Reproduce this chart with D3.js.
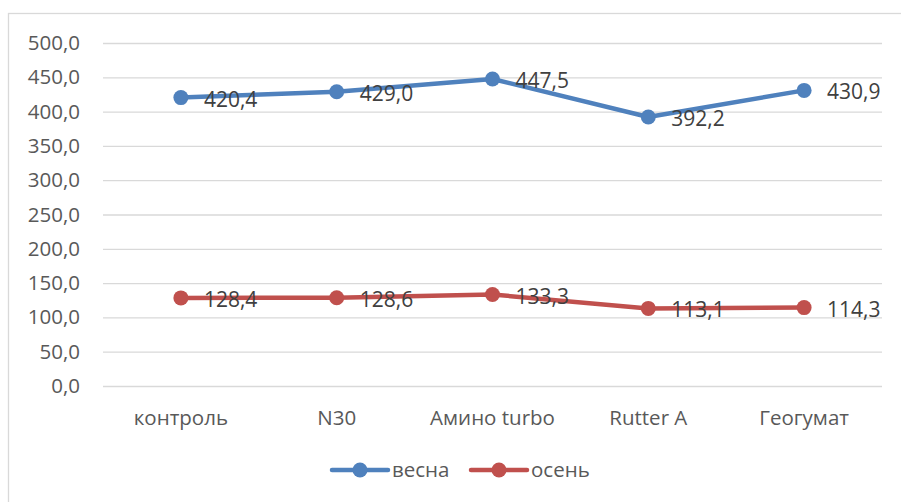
<!DOCTYPE html>
<html><head><meta charset="utf-8">
<script src="https://cdn.jsdelivr.net/npm/d3@7"></script>
<style>body{margin:0;background:#fff}svg{display:block;font-family:"Open Sans",sans-serif}</style>
</head><body><svg id="c" width="901" height="502"></svg>
<script>
const categories = ["контроль","N30","Амино turbo","Rutter A","Геогумат"];
const spring = [420.4,429.0,447.5,392.2,430.9];
const autumn = [128.4,128.6,133.3,113.1,114.3];
const seriesNames = ["весна","осень"];
const yTicks = [0,50,100,150,200,250,300,350,400,450,500];

const svg = d3.select("#c");
svg.append("rect").attr("x",8.5).attr("y",13.5).attr("width",920).attr("height",520)
  .attr("fill","none").attr("stroke","#d9d9d9").attr("stroke-width",1.3);

const x = d3.scaleBand().domain(categories).range([103,882]);
const y = d3.scaleLinear().domain([0,500]).range([386,43]);
const fmt = v => d3.format(".1f")(v).replace(".",",");

const gy = svg.append("g").attr("transform","translate(103,0)")
  .call(d3.axisLeft(y).tickValues(yTicks).tickSize(-779).tickFormat(fmt).tickPadding(23));
gy.select(".domain").remove();
gy.selectAll("line").attr("stroke","#d9d9d9").attr("stroke-width",1.3);
gy.selectAll("text").attr("fill","#595959").style("font-size","20.5px").style("font-family","Open Sans");

const gx = svg.append("g").attr("transform","translate(0,386)")
  .call(d3.axisBottom(x).tickSize(0).tickPadding(24));
gx.select(".domain").remove();
gx.selectAll("text").attr("fill","#595959").style("font-size","20.5px").style("font-family","Open Sans");

const colors = ["#4F81BD","#C0504D"];
[spring,autumn].forEach((vals,i)=>{
  const pts = vals.map((v,j)=>[x(categories[j])+x.bandwidth()/2,y(v)]);
  svg.append("path").attr("d",d3.line()(pts)).attr("fill","none")
    .attr("stroke",colors[i]).attr("stroke-width",4.5).attr("stroke-linejoin","round").attr("stroke-linecap","round");
  svg.selectAll(null).data(pts).enter().append("circle")
    .attr("cx",d=>d[0]).attr("cy",d=>d[1]).attr("r",7.5).attr("fill",colors[i]);
  svg.selectAll(null).data(vals).enter().append("text")
    .attr("x",(d,j)=>pts[j][0]+23).attr("y",(d,j)=>pts[j][1]+9)
    .attr("fill","#404040").style("font-size","21px").text(d=>fmt(d));
});

// legend
const lg = [{x:332,name:seriesNames[0],c:colors[0]},{x:471,name:seriesNames[1],c:colors[1]}];
lg.forEach(l=>{
  svg.append("line").attr("x1",l.x).attr("x2",l.x+56).attr("y1",470).attr("y2",470)
    .attr("stroke",l.c).attr("stroke-width",4.5).attr("stroke-linecap","round");
  svg.append("circle").attr("cx",l.x+28).attr("cy",470).attr("r",7.5).attr("fill",l.c);
  svg.append("text").attr("x",l.x+60).attr("y",477).attr("fill","#595959").style("font-size","20.5px").text(l.name);
});
</script></body></html>
